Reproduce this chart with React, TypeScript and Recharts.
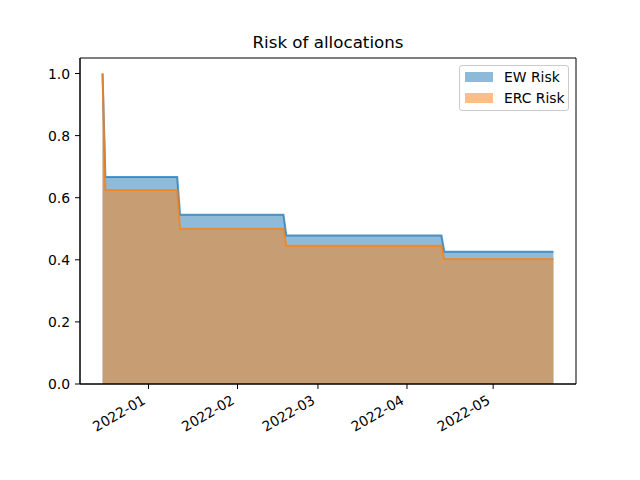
import React from "react";
import { AreaChart, Area, XAxis, YAxis, Legend, ReferenceArea } from "recharts";

const DATES = [
  "2021-12-16", "2021-12-17", "2022-01-11", "2022-01-12", "2022-02-17",
  "2022-02-18", "2022-04-13", "2022-04-14", "2022-05-22",
];
const EW_RISK = [1.0, 0.667, 0.667, 0.545, 0.545, 0.478, 0.478, 0.426, 0.426];
const ERC_RISK = [1.0, 0.625, 0.625, 0.5, 0.5, 0.445, 0.445, 0.403, 0.403];
const X_TICK_DATES = ["2022-01-01", "2022-02-01", "2022-03-01", "2022-04-01", "2022-05-01"];
const X_TICK_LABELS = ["2022-01", "2022-02", "2022-03", "2022-04", "2022-05"];
const Y_TICKS = [0, 0.2, 0.4, 0.6, 0.8, 1.0];

const toTs = (s: string) => Date.parse(s + "T00:00:00Z");

const data = DATES.map((d, i) => ({ t: toTs(d), ew: EW_RISK[i], erc: ERC_RISK[i] }));
const tMin = toTs(DATES[0]);
const tMax = toTs(DATES[DATES.length - 1]);
const pad = (tMax - tMin) * 0.05;
const xDomain: [number, number] = [tMin - pad, tMax + pad];
const yMax = 1.05;
const xTicks = X_TICK_DATES.map(toTs);

const FONT = "'DejaVu Sans', sans-serif";
const BLUE = "#1f77b4";
const ORANGE = "#ff7f0e";

const XTick = (props: any) => {
  const { x, y, payload } = props;
  const idx = xTicks.indexOf(payload.value);
  const label = idx >= 0 ? X_TICK_LABELS[idx] : "";
  return (
    <g transform={`translate(${x - 2},${y + 9}) rotate(-30)`}>
      <text x={0} y={0} textAnchor="end" fontFamily={FONT} fontSize={13.9} fill="#000">
        {label}
      </text>
    </g>
  );
};

const YTick = (props: any) => {
  const { x, y, payload } = props;
  return (
    <text x={x} y={y} dy="0.36em" textAnchor="end" fontFamily={FONT} fontSize={13.9} fill="#000">
      {Number(payload.value).toFixed(1)}
    </text>
  );
};

const LegendContent = () => (
  <div
    style={{
      position: "relative",
      width: 110,
      height: 46,
      boxSizing: "border-box",
      border: "1px solid #cccccc",
      borderRadius: 3,
      background: "rgba(255,255,255,0.8)",
      fontFamily: FONT,
      fontSize: 13.9,
      color: "#000",
    }}
  >
    {[
      { label: "EW Risk", color: BLUE, top: 5 },
      { label: "ERC Risk", color: ORANGE, top: 26 },
    ].map((e) => (
      <div key={e.label}>
        <div
          style={{
            position: "absolute",
            left: 5,
            top: e.top + 1,
            width: 28,
            height: 10,
            boxSizing: "border-box",
            background: e.color,
            opacity: 0.5,
            border: `1px solid ${e.color}`,
          }}
        />
        <div style={{ position: "absolute", left: 44, top: e.top - 4, lineHeight: "20px", whiteSpace: "nowrap" }}>
          {e.label}
        </div>
      </div>
    ))}
  </div>
);

export default function App() {
  return (
    <div style={{ position: "absolute", left: 0, top: 0, width: 640, height: 480 }}>
      <div
        style={{
          position: "absolute",
          left: 80,
          width: 496,
          top: 32,
          textAlign: "center",
          fontFamily: FONT,
          fontSize: 16.7,
          lineHeight: "20px",
          color: "#000",
          zIndex: 2,
        }}
      >
        Risk of allocations
      </div>
      <AreaChart width={640} height={480} data={data} margin={{ top: 58, right: 64, bottom: 0, left: 0 }}>
        <XAxis
          dataKey="t"
          type="number"
          domain={xDomain}
          allowDataOverflow
          ticks={xTicks}
          tick={<XTick />}
          tickSize={5}
          tickMargin={5}
          height={96}
          axisLine={{ stroke: "#000" }}
          tickLine={{ stroke: "#000" }}
          interval={0}
        />
        <YAxis
          type="number"
          domain={[0, yMax]}
          allowDataOverflow
          ticks={Y_TICKS}
          tick={<YTick />}
          tickSize={5}
          tickMargin={5}
          width={80}
          axisLine={{ stroke: "#000" }}
          tickLine={{ stroke: "#000" }}
          interval={0}
        />
        <Area
          type="linear"
          dataKey="ew"
          name="EW Risk"
          stroke={BLUE}
          strokeOpacity={0.75}
          strokeWidth={2}
          fill={BLUE}
          fillOpacity={0.5}
          baseValue={0}
          isAnimationActive={false}
          dot={false}
          activeDot={false}
        />
        <Area
          type="linear"
          dataKey="erc"
          name="ERC Risk"
          stroke={ORANGE}
          strokeOpacity={0.75}
          strokeWidth={2}
          fill={ORANGE}
          fillOpacity={0.5}
          baseValue={0}
          isAnimationActive={false}
          dot={false}
          activeDot={false}
        />
        <ReferenceArea
          x1={xDomain[0]}
          x2={xDomain[1]}
          y1={0}
          y2={yMax}
          fill="none"
          fillOpacity={0}
          stroke="#000"
          strokeWidth={1}
          ifOverflow="visible"
        />
        <Legend
          layout="horizontal"
          verticalAlign="middle"
          align="center"
          content={<LegendContent />}
          wrapperStyle={{ position: "absolute", left: 459, top: 65, width: 110, height: 46 }}
        />
      </AreaChart>
    </div>
  );
}
